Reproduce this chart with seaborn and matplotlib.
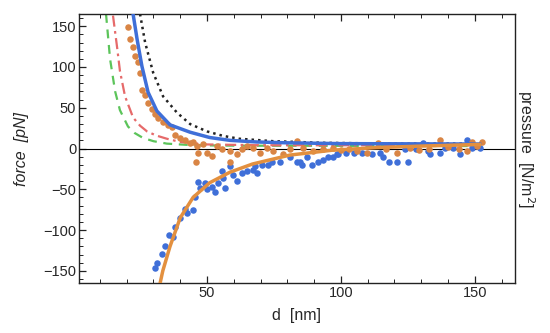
import numpy as np
import pandas as pd
import matplotlib
matplotlib.use("Agg")
import matplotlib.pyplot as plt
from matplotlib.ticker import MultipleLocator
import seaborn as sns

# measured data (d in nm, force in pN)
orange_d = [20.5, 21.3, 22.4, 23.1, 24.3, 25.0, 25.7, 26.9, 28.0, 29.5, 30.6, 31.7, 33.6, 35.4,
            36.9, 38.0, 39.9, 41.8, 43.7, 46.3, 46.6, 46.0, 44.8, 48.5, 50.0, 51.9, 53.7, 55.6,
            58.6, 58.6, 61.2, 63.0, 64.9, 67.2, 69.8, 72.4, 74.6, 78.4, 81.0, 83.6, 85.8, 89.6,
            93.3, 97.0, 100.0, 103.0, 106.0, 109.7, 113.8, 117.0, 121.0, 125.7, 129.0, 133.0,
            137.0, 140.0, 144.0, 147.0, 149.0, 152.6, 151.0]
orange_f = [149, 134, 124, 113, 106, 93, 72, 66, 56, 48, 42, 38, 33, 29,
            26, 17, 13.5, 11, 7, 2.5, -5, -17, 8.6, 5, -5, -9.5, 2.5, -1,
            -3.5, -17, -7, -1, 2.5, 1, -5, 1, -3.5, -7, -1, 9, 1, -3.5,
            -1, 1, -2, 0, -3, -5, 7, -1, -5, 1, -2, -1,
            11, 2, -1, -3.5, 8.6, 8.6, 3]

blue_d = [30.6, 31.3, 33.2, 34.3, 35.8, 37.3, 38.0, 39.9, 41.8, 42.5, 44.8, 45.5, 46.6, 47.4,
          49.3, 50.0, 51.9, 53.0, 54.1, 55.6, 56.0, 56.7, 58.6, 59.7, 61.2, 63.0, 64.9, 67.2,
          68.0, 68.7, 70.5, 72.8, 74.3, 77.2, 81.0, 83.6, 84.7, 85.4, 87.3, 89.2, 91.4, 93.3,
          95.1, 97.0, 98.5, 98.9, 102.0, 105.0, 108.0, 111.6, 114.6, 115.7, 118.0, 120.9,
          123.9, 125.0, 128.0, 130.6, 132.5, 133.2, 137.0, 138.8, 141.8, 144.4, 147.0, 148.9,
          151.0, 152.0]
blue_f = [-146, -140, -129, -120, -106, -108, -96, -85, -74, -79, -76, -60, -41, -48,
          -42, -50, -47, -53, -42, -28, -36, -48, -22, -32, -40, -30, -28, -26,
          -22, -30, -20, -20, -16, -16, -11, -16, -17, -20, -11, -20, -16, -13.5,
          -11, -10, -7, -7, -5, -5, -5, -7, -5, -11, -16, -16,
          -1, -16, -1, 7, -3.5, -7, -5, 1, 1, -7, 11, 1,
          2.5, 1]

# model curves
fit_blue_d = [22.4, 23.9, 25.7, 28.0, 31.3, 36.2, 43.7, 51.0, 58.6, 68.7, 80, 100, 152]
fit_blue_f = [165, 134, 101, 69, 46, 29, 20, 13.5, 10, 8, 7, 6, 5.5]
fit_black_d = [25.0, 26.9, 29.9, 33.6, 38.8, 43.7, 50.0, 56.0, 62.0, 74.6, 93.0, 120, 152]
fit_black_f = [165, 130, 93, 64, 44, 30, 21, 15.5, 12, 9, 7, 6, 6]
fit_green_d = [12.3, 13.8, 15.7, 17.5, 20.5, 23.0, 26.1, 30.0, 35.0, 45.0, 60.0, 152]
fit_green_f = [165, 110, 70, 47, 27, 19, 13, 9, 6, 4, 3.5, 3]
fit_red_d = [14.9, 16.4, 17.5, 19.4, 22.4, 25.0, 27.6, 31.0, 35.0, 40.0, 50.0, 70.0, 152]
fit_red_f = [163, 125, 95, 64, 38, 28, 21, 16, 12, 8, 5, 4, 4]
fit_orange_d = [32.5, 33.5, 36.2, 40.0, 44.8, 51.0, 58.6, 67.0, 81.0, 97.0, 113.0, 130.0, 152.0]
fit_orange_f = [-165, -150, -120, -85, -60, -42, -29, -19, -8, -2, 1, 3, 5]

BLUE = "#3f6fd8"
ORANGE = "#e3903f"
ORANGE_DOT = "#d98545"

sns.set_style("ticks")
plt.rcParams['font.family'] = ['Liberation Sans', 'DejaVu Sans']

fig = plt.figure(figsize=(5.5, 3.33), dpi=100)
ax = fig.add_axes([0.1436, 0.150, 0.7927, 0.808])

ax.axhline(0, color="black", lw=0.8, zorder=1)

sns.scatterplot(x=blue_d, y=blue_f, color=BLUE, s=22, linewidth=0, ax=ax, zorder=3)
sns.scatterplot(x=orange_d, y=orange_f, color=ORANGE_DOT, s=22, linewidth=0, ax=ax, zorder=3)

ax.plot(fit_green_d, fit_green_f, color="#5cc45a", lw=1.6, ls=(0, (4, 3)), zorder=2)
ax.plot(fit_red_d, fit_red_f, color="#e66a6a", lw=1.6, ls=(0, (5, 2, 1.2, 2)), zorder=2)
ax.plot(fit_black_d, fit_black_f, color="#222222", lw=1.8, ls=(0, (1, 1.6)), zorder=2)
ax.plot(fit_blue_d, fit_blue_f, color=BLUE, lw=2.5, zorder=4)
ax.plot(fit_orange_d, fit_orange_f, color=ORANGE, lw=2.5, zorder=4)

ax.set_xlim(2.2, 165)
ax.set_ylim(-165, 165)
ax.xaxis.set_major_locator(MultipleLocator(50))
ax.xaxis.set_minor_locator(MultipleLocator(10))
ax.yaxis.set_major_locator(MultipleLocator(50))
ax.yaxis.set_minor_locator(MultipleLocator(10))
ax.tick_params(which="both", direction="in", top=True, right=True, labelsize=10.5, pad=2,
               color="#222222")
ax.tick_params(which="major", length=5, width=0.9)
ax.tick_params(which="minor", length=3, width=0.7)
for sp in ax.spines.values():
    sp.set_linewidth(1.0)
    sp.set_color("#222222")

ax.set_xlabel("d  [nm]", fontsize=11.5, labelpad=6)
ax.set_ylabel("force  [pN]", fontsize=11.5, style="italic", labelpad=2)
ax.yaxis.set_label_coords(-0.115, 0.5)

ax2 = ax.twinx()
ax2.set_ylim(-165, 165)
ax2.set_yticks([])
ax2.set_ylabel("pressure  [N/m$^2$]", fontsize=11.5, rotation=270, labelpad=16)
for sp in ax2.spines.values():
    sp.set_visible(False)

fig.savefig("out.png", dpi=100)
